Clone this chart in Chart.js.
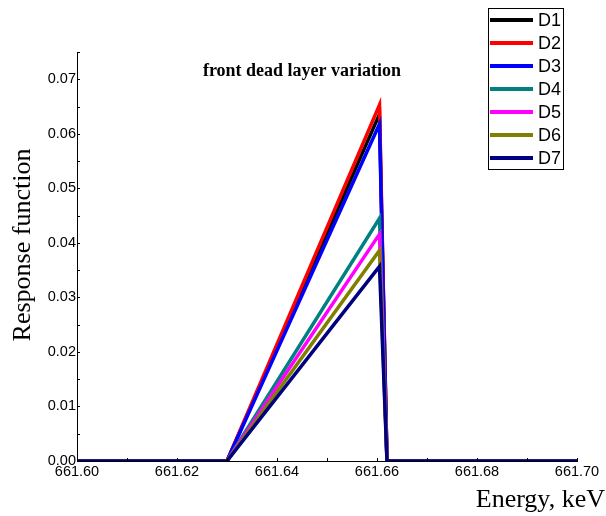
<!DOCTYPE html>
<html>
<head>
<meta charset="utf-8">
<script src="https://cdn.jsdelivr.net/npm/chart.js@4"></script>
<style>
  html, body { margin: 0; padding: 0; background: #fff; }
  #wrap { width: 606px; height: 516px; }
</style>
</head>
<body>
<div id="wrap"><canvas id="myChart" width="606" height="516"></canvas></div>
<script>
// energies where the response changes (keV)
var energies = [661.60, 661.63, 661.6605, 661.662, 661.70];
var seriesNames = ['D1', 'D2', 'D3', 'D4', 'D5', 'D6', 'D7'];
var seriesColors = ['#000000', '#ff0000', '#0000ff', '#008080', '#ff00ff', '#808000', '#000080'];
// response at each energy, one list per series
var d1 = [0, 0, 0.0636, 0, 0];
var d2 = [0, 0, 0.0653, 0, 0];
var d3 = [0, 0, 0.0618, 0, 0];
var d4 = [0, 0, 0.0445, 0, 0];
var d5 = [0, 0, 0.0416, 0, 0];
var d6 = [0, 0, 0.0386, 0, 0];
var d7 = [0, 0, 0.0357, 0, 0];
var seriesValues = [d1, d2, d3, d4, d5, d6, d7];
var xTicks = [661.60, 661.62, 661.64, 661.66, 661.68, 661.70];
var yTicks = [0, 0.01, 0.02, 0.03, 0.04, 0.05, 0.06, 0.07];

var datasets = seriesNames.map(function (name, i) {
  return {
    label: name,
    data: energies.map(function (e, j) { return { x: e, y: seriesValues[i][j] }; }),
    borderColor: seriesColors[i],
    backgroundColor: seriesColors[i],
    borderWidth: 3.5,
    pointRadius: 0,
    tension: 0,
    order: seriesNames.length - i
  };
});

// titles and the boxed legend are drawn by hand to sit where the original has them
var decorations = {
  id: 'decorations',
  afterDraw: function (chart) {
    var c = chart.ctx;
    var area = chart.chartArea;
    c.save();
    c.fillStyle = '#000';

    c.font = 'bold 18px "Liberation Serif"';
    c.textAlign = 'center';
    c.textBaseline = 'alphabetic';
    c.fillText('front dead layer variation', 302, 76);

    c.font = '26px "Liberation Serif"';
    c.textAlign = 'right';
    c.fillText('Energy, keV', 605, 507);

    c.save();
    c.translate(30, 245);
    c.rotate(-Math.PI / 2);
    c.textAlign = 'center';
    c.fillText('Response function', 0, 0);
    c.restore();

    // small ticks on the axes
    c.strokeStyle = '#000';
    c.lineWidth = 1;
    var xs = chart.scales.x, ys = chart.scales.y;
    for (var v = 661.60; v <= 661.7001; v += 0.01) {
      var px = Math.round(xs.getPixelForValue(v)) + 0.5;
      c.beginPath(); c.moveTo(px, area.bottom); c.lineTo(px, area.bottom - 3); c.stroke();
    }
    for (var w = 0; w <= 0.0751; w += 0.005) {
      var py = Math.round(ys.getPixelForValue(w)) + 0.5;
      c.beginPath(); c.moveTo(area.left, py); c.lineTo(area.left + 3, py); c.stroke();
    }

    // legend box
    var bx = 488, by = 8, bw = 75, bh = 161;
    c.fillStyle = '#fff';
    c.fillRect(bx, by, bw, bh);
    c.strokeStyle = '#000';
    c.lineWidth = 1;
    c.strokeRect(bx + 0.5, by + 0.5, bw, bh);
    c.font = '18px "Liberation Sans"';
    c.textAlign = 'left';
    c.textBaseline = 'middle';
    seriesNames.forEach(function (name, i) {
      var y = by + 12 + i * 23;
      c.strokeStyle = seriesColors[i];
      c.lineWidth = 4;
      c.beginPath(); c.moveTo(bx + 2, y); c.lineTo(bx + 45, y); c.stroke();
      c.fillStyle = '#000';
      c.fillText(name, bx + 50, y + 1);
    });
    c.restore();
  }
};

var ctx = document.getElementById('myChart').getContext('2d');
var chart = new Chart(ctx, {
  type: 'line',
  data: { datasets: datasets },
  plugins: [decorations],
  options: {
    responsive: false,
    animation: false,
    layout: { padding: { top: 52, right: 29, left: 0, bottom: 0 } },
    plugins: {
      legend: { display: false },
      tooltip: { enabled: false },
      title: { display: false }
    },
    scales: {
      x: {
        type: 'linear',
        min: 661.60,
        max: 661.70,
        afterBuildTicks: function (scale) {
          scale.ticks = xTicks.map(function (v) { return { value: v }; });
        },
        afterFit: function (scale) { scale.height = 55; },
        grid: { display: false, drawTicks: false },
        border: { display: true, color: '#000', width: 1 },
        ticks: {
          padding: 2,
          maxRotation: 0,
          autoSkip: false,
          color: '#000',
          font: { family: '"Liberation Sans"', size: 14.5 },
          callback: function (v) { return Number(v).toFixed(2); }
        }
      },
      y: {
        min: 0,
        max: 0.075,
        afterBuildTicks: function (scale) {
          scale.ticks = yTicks.map(function (v) { return { value: v }; });
        },
        afterFit: function (scale) { scale.width = 77; },
        grid: { display: false, drawTicks: false },
        border: { display: true, color: '#000', width: 1 },
        ticks: {
          padding: 1,
          color: '#000',
          font: { family: '"Liberation Sans"', size: 14.5 },
          callback: function (v) { return Number(v).toFixed(2); }
        }
      }
    }
  }
});
</script>
</body>
</html>
